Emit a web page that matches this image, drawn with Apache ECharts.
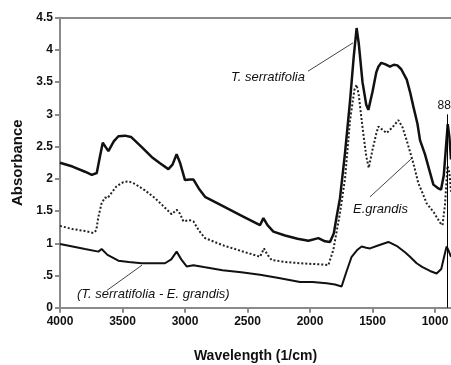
<!DOCTYPE html>
<html>
<head>
<meta charset="utf-8">
<script src="https://cdn.jsdelivr.net/npm/echarts@6/dist/echarts.min.js"></script>
<style>
  html, body { margin: 0; padding: 0; background: #fff; }
  #chart { width: 451px; height: 365px; }
</style>
</head>
<body>
<div id="chart"></div>
<script>
// wavenumber (1/cm) / absorbance pairs
var serratifoliaWave = [4000, 3900, 3800, 3746, 3706, 3680, 3658, 3613, 3570, 3533, 3480, 3432, 3350, 3267, 3200, 3133, 3100, 3067, 3040, 3000, 2960, 2933, 2890, 2840, 2700, 2550, 2400, 2373, 2340, 2293, 2200, 2100, 2013, 1933, 1880, 1840, 1810, 1787, 1760, 1747, 1720, 1680, 1650, 1627, 1610, 1580, 1550, 1533, 1500, 1470, 1453, 1430, 1400, 1380, 1360, 1330, 1301, 1270, 1226, 1200, 1173, 1140, 1120, 1080, 1053, 1013, 980, 952, 930, 910, 898, 885, 872];
var serratifoliaAbs = [2.25, 2.19, 2.11, 2.06, 2.09, 2.35, 2.56, 2.43, 2.58, 2.66, 2.67, 2.65, 2.50, 2.34, 2.24, 2.15, 2.22, 2.38, 2.25, 1.98, 1.99, 1.99, 1.85, 1.72, 1.58, 1.43, 1.28, 1.39, 1.28, 1.18, 1.12, 1.07, 1.04, 1.08, 1.03, 1.02, 1.15, 1.41, 1.70, 1.93, 2.40, 3.20, 3.90, 4.34, 4.10, 3.50, 3.15, 3.07, 3.35, 3.65, 3.74, 3.80, 3.78, 3.76, 3.74, 3.77, 3.76, 3.70, 3.54, 3.35, 3.12, 2.85, 2.60, 2.38, 2.19, 1.91, 1.86, 1.83, 2.05, 2.55, 2.85, 2.65, 2.30];

var grandisWave = [4000, 3900, 3800, 3733, 3710, 3693, 3667, 3640, 3620, 3600, 3550, 3493, 3450, 3400, 3320, 3240, 3170, 3107, 3067, 3040, 3013, 2967, 2933, 2890, 2840, 2700, 2550, 2400, 2368, 2340, 2306, 2200, 2080, 1900, 1853, 1813, 1760, 1720, 1680, 1645, 1627, 1610, 1580, 1550, 1530, 1500, 1470, 1453, 1420, 1387, 1340, 1293, 1260, 1227, 1200, 1173, 1133, 1100, 1067, 1010, 960, 940, 920, 900, 885, 872];
var grandisAbs = [1.27, 1.22, 1.19, 1.16, 1.20, 1.41, 1.62, 1.71, 1.70, 1.75, 1.88, 1.95, 1.96, 1.92, 1.82, 1.70, 1.57, 1.45, 1.52, 1.46, 1.34, 1.36, 1.34, 1.20, 1.08, 0.97, 0.88, 0.79, 0.92, 0.82, 0.74, 0.71, 0.69, 0.67, 0.66, 0.90, 1.47, 2.00, 2.90, 3.38, 3.46, 3.30, 2.80, 2.35, 2.17, 2.45, 2.70, 2.81, 2.76, 2.71, 2.80, 2.91, 2.80, 2.60, 2.42, 2.24, 1.93, 1.78, 1.62, 1.48, 1.32, 1.28, 1.60, 2.20, 2.10, 1.80];

var diffWave = [4000, 3900, 3800, 3693, 3667, 3620, 3533, 3450, 3347, 3250, 3160, 3110, 3067, 3030, 2987, 2933, 2850, 2700, 2550, 2400, 2250, 2080, 1980, 1867, 1800, 1747, 1710, 1667, 1620, 1587, 1550, 1520, 1450, 1373, 1300, 1240, 1200, 1147, 1100, 1040, 987, 950, 920, 907, 890, 872];
var diffAbs = [0.99, 0.95, 0.91, 0.87, 0.91, 0.82, 0.73, 0.71, 0.69, 0.69, 0.69, 0.75, 0.87, 0.75, 0.64, 0.66, 0.63, 0.58, 0.55, 0.51, 0.46, 0.40, 0.40, 0.38, 0.36, 0.33, 0.55, 0.79, 0.90, 0.95, 0.93, 0.92, 0.97, 1.02, 0.95, 0.86, 0.79, 0.69, 0.63, 0.57, 0.53, 0.60, 0.85, 0.95, 0.88, 0.79];

var xTicks = [1000, 1500, 2000, 2500, 3000, 3500, 4000];
var peakMarkWave = 900;
var peakMarkLabel = '880';

function pairs(xs, ys) {
  return xs.map(function (x, i) { return [x, ys[i]]; });
}

var font = 'Liberation Sans, Arial, sans-serif';
var axisGray = '#8a8a8a';

var chart = echarts.init(document.getElementById('chart'));
var option = {
  animation: false,
  grid: { left: 60, top: 17.7, right: 0, bottom: 57.3, containLabel: false, outerBoundsMode: 'none' },
  xAxis: [
    {
      type: 'value',
      inverse: true,
      min: 872,
      max: 4000,
      name: 'Wavelength (1/cm)',
      nameLocation: 'middle',
      nameGap: 41,
      nameTextStyle: { fontFamily: font, fontSize: 14, fontWeight: 'bold', color: '#111' },
      axisLine: { lineStyle: { color: axisGray, width: 2 } },
      axisTick: { length: 5, customValues: xTicks, lineStyle: { color: axisGray, width: 2 } },
      axisLabel: {
        customValues: xTicks, margin: 8, fontFamily: font, fontSize: 12, fontWeight: 'bold', color: '#111',
        formatter: function (v) { return String(v); }
      },
      splitLine: { show: false }
    },
    {
      type: 'value',
      position: 'top',
      inverse: true,
      min: 872,
      max: 4000,
      axisLine: { show: true, lineStyle: { color: axisGray, width: 2 } },
      axisTick: { show: false },
      axisLabel: { show: false },
      splitLine: { show: false }
    }
  ],
  yAxis: {
    type: 'value',
    min: 0,
    max: 4.5,
    interval: 0.5,
    name: 'Absorbance',
    nameLocation: 'middle',
    nameGap: 31,
    nameTextStyle: { fontFamily: font, fontSize: 15, fontWeight: 'bold', color: '#111' },
    axisLine: { show: true, lineStyle: { color: axisGray, width: 2 } },
    axisTick: { show: true, length: 5, lineStyle: { color: axisGray, width: 2 } },
    axisLabel: {
      margin: 7,
      fontFamily: font, fontSize: 12, fontWeight: 'bold', color: '#111',
      formatter: function (v) {
        if (v === 0) return '0';
        return v < 1 ? String(v).replace(/^0/, '') : String(v);
      }
    },
    splitLine: { show: false }
  },
  series: [
    {
      name: 'T. serratifolia',
      type: 'line',
      showSymbol: false,
      data: pairs(serratifoliaWave, serratifoliaAbs),
      lineStyle: { color: '#111', width: 2.5 }
    },
    {
      name: 'E.grandis',
      type: 'line',
      showSymbol: false,
      data: pairs(grandisWave, grandisAbs),
      lineStyle: { color: '#222', width: 2, type: [2, 2] }
    },
    {
      name: '(T. serratifolia - E. grandis)',
      type: 'line',
      showSymbol: false,
      data: pairs(diffWave, diffAbs),
      lineStyle: { color: '#111', width: 2 },
      markLine: {
        silent: true,
        symbol: 'none',
        lineStyle: { color: '#000', width: 1, type: 'solid' },
        label: {
          show: true, position: 'end', formatter: peakMarkLabel,
          fontFamily: font, fontSize: 12, color: '#111', distance: 3
        },
        data: [[{ coord: [peakMarkWave, 0] }, { coord: [peakMarkWave, 3.0] }]]
      }
    }
  ]
};
chart.setOption(option);

// callouts, anchored in data coordinates
var callouts = [
  { text: 'T. serratifolia', at: [2632, 3.57], from: [2016, 3.67], to: [1656, 4.11] },
  { text: 'E.grandis', at: [1656, 1.53], from: [1520, 1.72], to: [1184, 2.32] },
  { text: '(T. serratifolia - E. grandis)', at: [3864, 0.20], from: [3624, 0.27], to: [3344, 0.66] }
];
var graphics = [];
callouts.forEach(function (c) {
  var p = chart.convertToPixel({ gridIndex: 0 }, c.at);
  var a = chart.convertToPixel({ gridIndex: 0 }, c.from);
  var b = chart.convertToPixel({ gridIndex: 0 }, c.to);
  graphics.push({
    type: 'text', x: p[0], y: p[1],
    style: { text: c.text, fill: '#111', font: 'italic 13px ' + font, textAlign: 'left', textVerticalAlign: 'middle' }
  });
  graphics.push({
    type: 'line', shape: { x1: a[0], y1: a[1], x2: b[0], y2: b[1] },
    style: { stroke: '#444', lineWidth: 1 }
  });
});
chart.setOption({ graphic: graphics });
</script>
</body>
</html>
